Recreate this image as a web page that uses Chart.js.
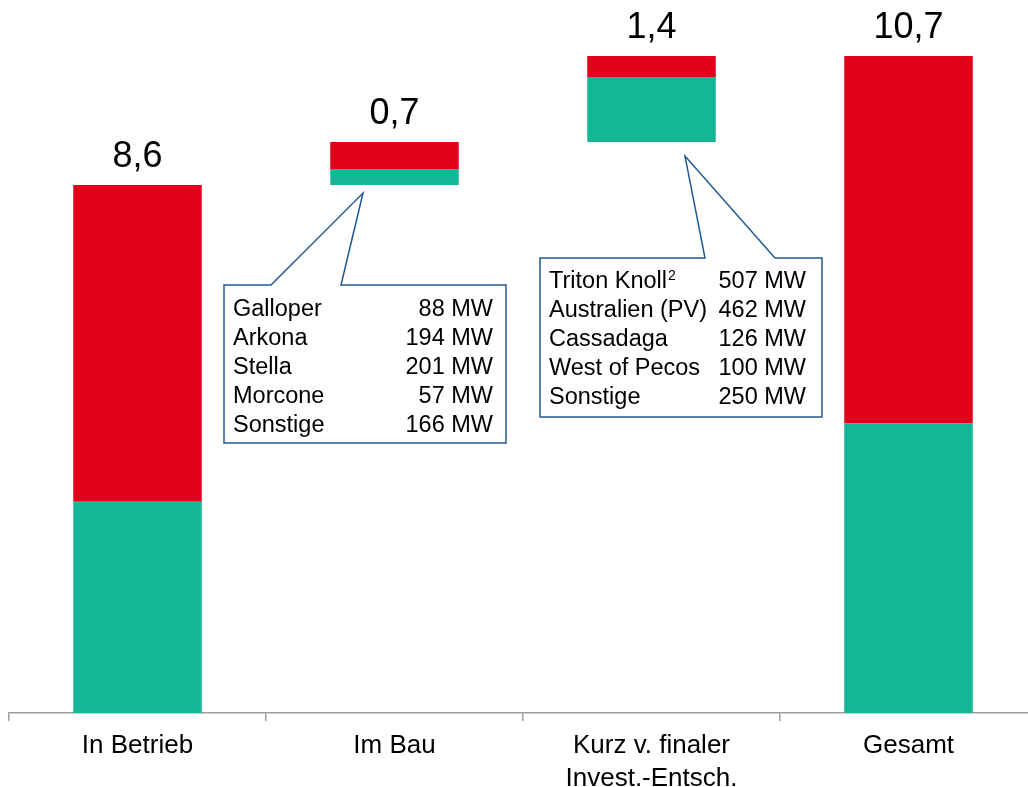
<!DOCTYPE html>
<html>
<head>
<meta charset="utf-8">
<script src="https://cdn.jsdelivr.net/npm/chart.js@4.4.1/dist/chart.umd.min.js"></script>
<style>
  html, body { margin: 0; padding: 0; background: #fff; overflow: hidden; }
  #wrap { position: relative; width: 1040px; height: 787px; }
</style>
</head>
<body>
<div id="wrap"><canvas id="c" width="1040" height="787"></canvas></div>
<script>
// Capacity in GW per stage of the pipeline
const categories = ['In Betrieb', 'Im Bau', ['Kurz v. finaler', 'Invest.-Entsch.'], 'Gesamt'];
const totalGW = [8.6, 0.7, 1.4, 10.7];
const baseGW  = [0, 8.6, 9.3, 0];
const greenGW = [3.44, 0.26, 1.06, 4.72];

// Project lists shown in the two callouts
const buildNames  = ['Galloper', 'Arkona', 'Stella', 'Morcone', 'Sonstige'];
const buildMW     = [88, 194, 201, 57, 166];
const fidNames    = ['Triton Knoll', 'Australien (PV)', 'Cassadaga', 'West of Pecos', 'Sonstige'];
const fidMW       = [507, 462, 126, 100, 250];
const fidSup      = ['2', '', '', '', ''];

const RED = '#E2001A';
const GREEN = '#15B696';
const FONT = '"Liberation Sans", Arial, Helvetica, sans-serif';
const CALLOUT_LINE = '#1F5A93';

const greenBars = baseGW.map((b, i) => [b, b + greenGW[i]]);
const redBars = baseGW.map((b, i) => [b + greenGW[i], b + totalGW[i]]);

const fmt = v => v.toFixed(1).replace('.', ',');

const annotate = {
  id: 'annotate',
  afterDatasetsDraw(chart) {
    const ctx = chart.ctx;
    const x = chart.scales.x, y = chart.scales.y;
    ctx.save();

    // totals above each bar
    ctx.fillStyle = '#000';
    ctx.font = '36px ' + FONT;
    ctx.textAlign = 'center';
    ctx.textBaseline = 'alphabetic';
    totalGW.forEach((t, i) => {
      const top = y.getPixelForValue(baseGW[i] + totalGW[i]);
      ctx.fillText(fmt(t), x.getPixelForValue(i), top - 18);
    });

    // callout box with a pointer from its top edge
    function callout(cx, tipY, box, tipDx, b1, b2, names, mw, sup, leftPad, rightPad, firstBase) {
      const L = cx + box.l, R = cx + box.r, T = box.t, B = box.b;
      ctx.beginPath();
      ctx.moveTo(L, T);
      ctx.lineTo(cx + b1, T);
      ctx.lineTo(cx + tipDx, tipY);
      ctx.lineTo(cx + b2, T);
      ctx.lineTo(R, T);
      ctx.lineTo(R, B);
      ctx.lineTo(L, B);
      ctx.closePath();
      ctx.fillStyle = '#fff';
      ctx.fill();
      ctx.strokeStyle = CALLOUT_LINE;
      ctx.lineWidth = 1.5;
      ctx.lineJoin = 'miter';
      ctx.stroke();

      ctx.fillStyle = '#000';
      ctx.textBaseline = 'alphabetic';
      names.forEach((n, k) => {
        const by = T + firstBase + k * 29;
        ctx.font = '23.5px ' + FONT;
        ctx.textAlign = 'left';
        ctx.fillText(n, L + leftPad, by);
        if (sup && sup[k]) {
          const w = ctx.measureText(n).width;
          ctx.font = '14px ' + FONT;
          ctx.fillText(sup[k], L + leftPad + w + 1, by - 8);
          ctx.font = '23.5px ' + FONT;
        }
        ctx.textAlign = 'right';
        ctx.fillText(mw[k] + ' MW', R - rightPad, by);
      });
    }

    const c1 = x.getPixelForValue(1);
    const tip1 = y.getPixelForValue(baseGW[1]) + 8;
    callout(c1, tip1, { l: -170.5, r: 111.5, t: 285, b: 443 }, -31.5, -123.5, -53.5,
            buildNames, buildMW, null, 9, 13, 31);

    const c2 = x.getPixelForValue(2);
    const tip2 = y.getPixelForValue(baseGW[2]) + 14;
    callout(c2, tip2, { l: -111.5, r: 170.5, t: 258, b: 417 }, 33.5, 53.5, 123.5,
            fidNames, fidMW, fidSup, 9, 16, 30);

    ctx.restore();
  }
};

new Chart(document.getElementById('c'), {
  type: 'bar',
  data: {
    labels: categories,
    datasets: [
      { label: 'grün', data: greenBars, backgroundColor: GREEN, grouped: false,
        barPercentage: 0.5, categoryPercentage: 1.0, borderWidth: 0, borderSkipped: false },
      { label: 'rot', data: redBars, backgroundColor: RED, grouped: false,
        barPercentage: 0.5, categoryPercentage: 1.0, borderWidth: 0, borderSkipped: false }
    ]
  },
  options: {
    responsive: false,
    animation: false,
    layout: { padding: { left: 9, right: 3, top: 7, bottom: 0 } },
    plugins: { legend: { display: false }, tooltip: { enabled: false } },
    scales: {
      x: {
        grid: { drawOnChartArea: false, drawTicks: true, tickLength: 8, color: '#9E9E9E', lineWidth: 1.5, offset: true },
        border: { display: true, color: '#9E9E9E', width: 1.5 },
        ticks: { color: '#000', font: { family: FONT, size: 26, lineHeight: 1.27 }, padding: 8, maxRotation: 0, autoSkip: false },
        afterFit(scale) { scale.height = 74; }
      },
      y: { display: false, min: 0, max: 11.5 }
    }
  },
  plugins: [annotate]
});
</script>
</body>
</html>
